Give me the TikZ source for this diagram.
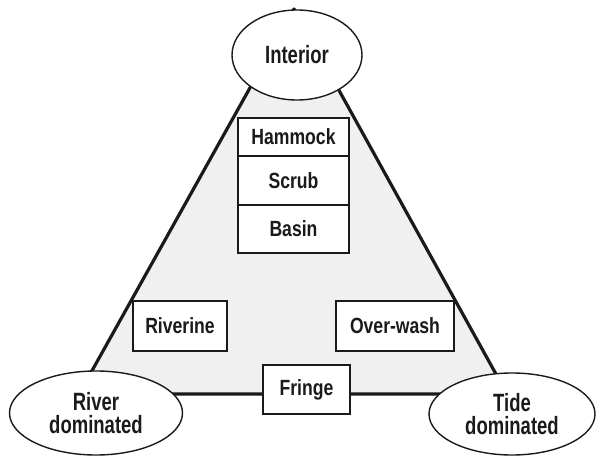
\documentclass[tikz,border=0pt]{standalone}
\usepackage{fontspec}
\setmainfont{Liberation Sans}[FakeStretch=0.8]
\newfontfamily\ellfont{Liberation Sans}[FakeStretch=0.74]
\usetikzlibrary{shapes.geometric}
\definecolor{fillgray}{HTML}{F0F0F0}
\definecolor{ink}{HTML}{1A1A1A}
\tikzset{
  ell/.style={ellipse, draw=ink, line width=1.4pt, fill=white, inner sep=0pt,
    font=\ellfont\fontsize{25}{26}\selectfont\bfseries, align=center, text=ink},
  boxn/.style={rectangle, draw=ink, line width=1.7pt, fill=white, inner sep=0pt,
    font=\fontsize{22}{24}\selectfont\bfseries, text=ink},
  tri/.style={draw=ink, line width=3.2pt, line join=round}
}
\begin{document}
\begin{tikzpicture}[x=1pt,y=-1pt]
\useasboundingbox (0,0) rectangle (596,457);
\coordinate (A) at (294,9);
\coordinate (BL) at (79,394);
\coordinate (BR) at (507,394);
\fill[fillgray] (A) -- (BL) -- (BR) -- cycle;
\draw[tri] (A) -- (BL) -- (BR) -- cycle;
\node[ell, minimum width=130pt, minimum height=90pt] (interior) at (297,55) {Interior};
\node[ell, minimum width=173pt, minimum height=84pt] (river) at (96,413) {River\\[-3pt]dominated};
\node[ell, minimum width=166pt, minimum height=82pt] (tide) at (512,414) {Tide\\[-3pt]dominated};
\node[boxn, minimum width=111pt, minimum height=38pt] (hammock) at (293.5,137) {Hammock};
\node[boxn, minimum width=111pt, minimum height=49pt] (scrub) at (293.5,180.5) {Scrub};
\node[boxn, minimum width=111pt, minimum height=48pt] (basin) at (293.5,229) {Basin};
\node[boxn, minimum width=94pt, minimum height=50pt] (riverine) at (180,326) {Riverine};
\node[boxn, minimum width=118pt, minimum height=50pt] (overwash) at (395,326) {Over-wash};
\node[boxn, minimum width=87pt, minimum height=49pt] (fringe) at (306.5,389.5) {Fringe};
\end{tikzpicture}
\end{document}
